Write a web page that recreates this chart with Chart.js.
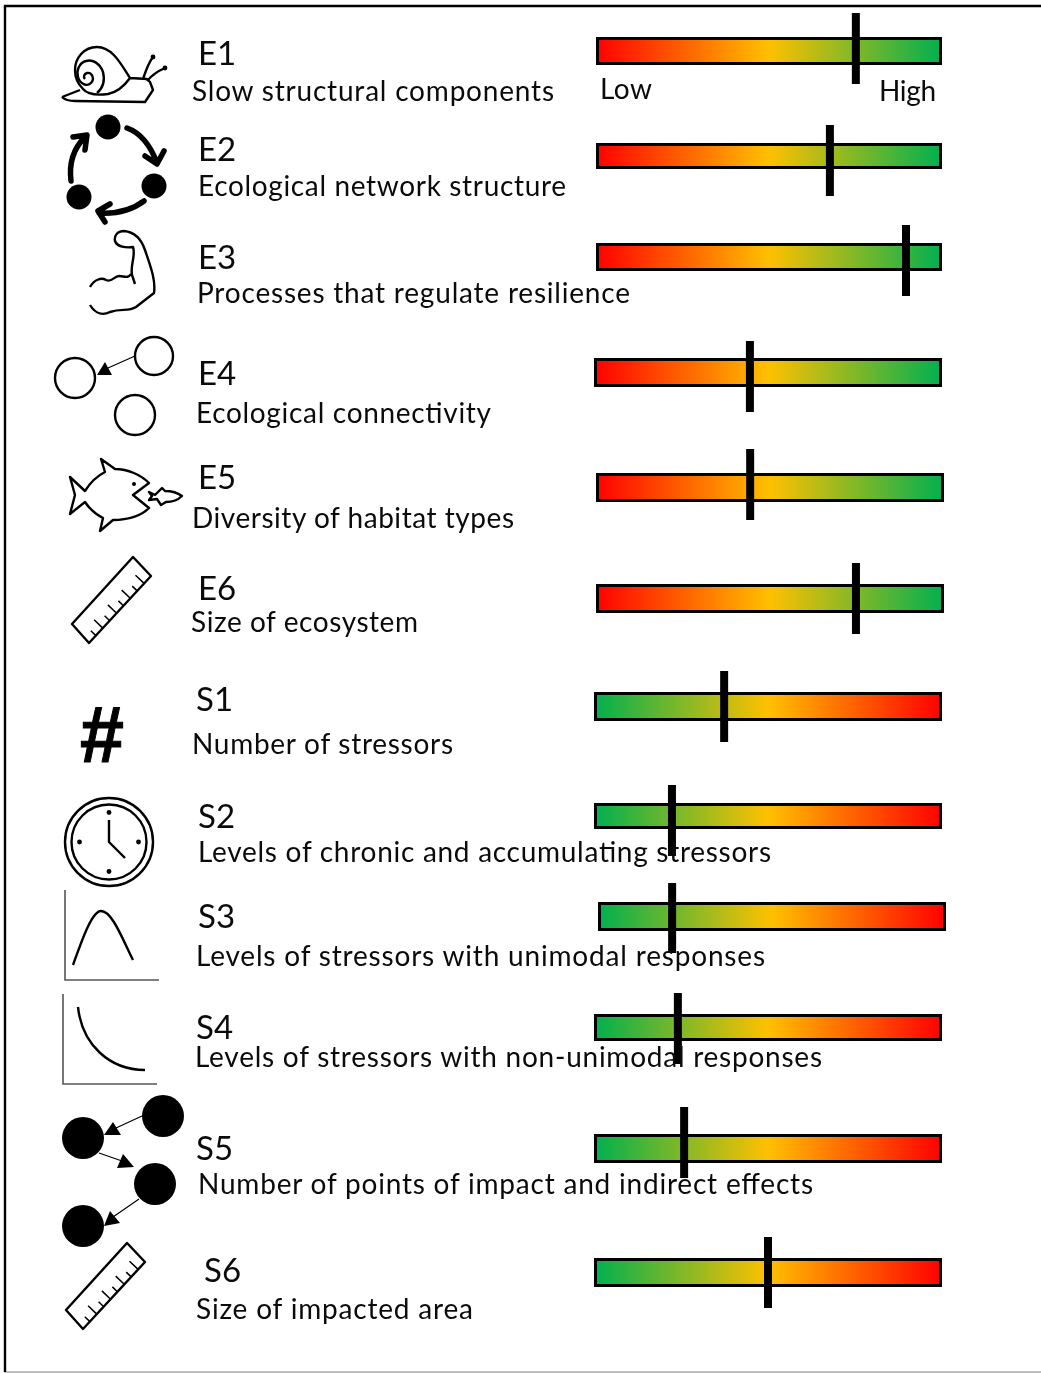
<!DOCTYPE html>
<html>
<head>
<meta charset="utf-8">
<title>Ecosystem and stressor indicators</title>
<script src="https://cdn.jsdelivr.net/npm/chart.js@4"></script>
<style>
    html, body { margin: 0; background: #fff; }
    #page { position: relative; width: 1041px; height: 1373px; overflow: hidden; }
    #page canvas { position: absolute; }
    #overlay { position: absolute; left: 0; top: 0; }
    #overlay text { font-family: Lato, Carlito, sans-serif; fill: #0b0b0b; }
    #overlay text.hash { font-family: "Liberation Sans", sans-serif; font-size: 79px; font-weight: 700; fill: #000; stroke: #000; stroke-width: 1; }
    .code { font-size: 33px; }
    .desc { font-size: 28px; }
    .line { fill: none; stroke: #000; stroke-width: 2.4; stroke-linejoin: round; }
    .heavy { fill: none; stroke: #000; stroke-width: 5.5; stroke-linecap: round; stroke-linejoin: round; }
    .axis { fill: none; stroke: #555; stroke-width: 1.6; }
</style>
</head>
<body>
<div id="page">
<svg id="overlay" width="1041" height="1373" xmlns="http://www.w3.org/2000/svg"></svg>
</div>
<script>
const codes = ['E1', 'E2', 'E3', 'E4', 'E5', 'E6', 'S1', 'S2', 'S3', 'S4', 'S5', 'S6'];
const labels = [
    'Slow structural components',
    'Ecological network structure',
    'Processes that regulate resilience',
    'Ecological connectivity',
    'Diversity of habitat types',
    'Size of ecosystem',
    'Number of stressors',
    'Levels of chronic and accumulating stressors',
    'Levels of stressors with unimodal responses',
    'Levels of stressors with non-unimodal responses',
    'Number of points of impact and indirect effects',
    'Size of impacted area'
];
const markerValues = [75.1, 67.6, 89.6, 44.8, 44.3, 74.7, 37.4, 22.4, 21.3, 24.1, 25.9, 50];
const scaleEnds = ['Low', 'High'];
const ecosystemStops = ['#FF0000', '#FFC000', '#00B050'];
const stressorStops = ['#00B050', '#FFC000', '#FF0000'];

// page layout of each row: bar box, marker span, code text, label text
const rowLayout = [
    { l: 596, r: 942, t: 37, b: 65, mt: 13, mb: 84, cx: 198, cy: 65, dx: 192, dy: 101, dr: 554 },
    { l: 596, r: 942, t: 143, b: 169, mt: 125, mb: 196, cx: 198, cy: 161, dx: 198, dy: 196, dr: 566 },
    { l: 596, r: 942, t: 243, b: 271, mt: 225, mb: 296, cx: 198, cy: 269, dx: 197, dy: 303, dr: 630 },
    { l: 594, r: 942, t: 358, b: 387, mt: 341, mb: 412, cx: 198, cy: 385, dx: 196, dy: 423, dr: 491 },
    { l: 596, r: 944, t: 473, b: 502, mt: 449, mb: 520, cx: 198, cy: 489, dx: 192, dy: 528, dr: 514 },
    { l: 596, r: 944, t: 584, b: 613, mt: 563, mb: 634, cx: 198, cy: 600, dx: 191, dy: 632, dr: 418 },
    { l: 594, r: 942, t: 692, b: 721, mt: 671, mb: 742, cx: 196, cy: 711, dx: 192, dy: 754, dr: 453 },
    { l: 594, r: 942, t: 803, b: 829, mt: 785, mb: 856, cx: 198, cy: 828, dx: 198, dy: 862, dr: 771 },
    { l: 598, r: 946, t: 902, b: 931, mt: 883, mb: 953, cx: 198, cy: 928, dx: 196, dy: 966, dr: 765 },
    { l: 594, r: 942, t: 1014, b: 1041, mt: 993, mb: 1064, cx: 196, cy: 1039, dx: 195, dy: 1067, dr: 822 },
    { l: 594, r: 942, t: 1134, b: 1163, mt: 1107, mb: 1178, cx: 196, cy: 1160, dx: 198, dy: 1194, dr: 813 },
    { l: 594, r: 942, t: 1258, b: 1287, mt: 1237, mb: 1308, cx: 204, cy: 1282, dx: 196, dy: 1319, dr: 473 }
];

function renderRow(index) {
    const row = rowLayout[index];
    const width = row.r - row.l;
    const height = row.mb - row.mt;
    const stops = codes[index].startsWith('E') ? ecosystemStops : stressorStops;
    const halfWidth = 4 / width * 100; // marker is 8px wide

    const canvas = document.createElement('canvas');
    canvas.width = width;
    canvas.height = height;
    canvas.style.left = row.l + 'px';
    canvas.style.top = row.mt + 'px';
    canvas.style.width = width + 'px';
    canvas.style.height = height + 'px';
    document.getElementById('page').insertBefore(canvas, document.getElementById('overlay'));

    new Chart(canvas, {
        type: 'bar',
        data: {
            datasets: [{
                label: codes[index] + ' marker',
                data: [{ x: [markerValues[index] - halfWidth, markerValues[index] + halfWidth], y: height / 2 }],
                backgroundColor: '#000',
                barThickness: height,
                grouped: false,
                borderWidth: 0,
                inflateAmount: 0
            }, {
                label: codes[index],
                data: [{ x: [0, 100], y: (row.t + row.b) / 2 - row.mt }],
                backgroundColor: ctx => {
                    const area = ctx.chart.chartArea;
                    if (!area) return stops[0];
                    const x = ctx.chart.scales.x;
                    const grad = ctx.chart.ctx.createLinearGradient(x.getPixelForValue(0), 0, x.getPixelForValue(100), 0);
                    stops.forEach((c, i) => grad.addColorStop(i / (stops.length - 1), c));
                    return grad;
                },
                borderColor: '#000',
                borderWidth: 3,
                borderSkipped: false,
                barThickness: row.b - row.t,
                grouped: false,
                inflateAmount: 0
            }]
        },
        options: {
            indexAxis: 'y',
            responsive: false,
            animation: false,
            events: [],
            layout: { padding: 0 },
            plugins: { legend: { display: false }, tooltip: { enabled: false } },
            scales: {
                x: { type: 'linear', min: 0, max: 100, display: false },
                // bar charts default the index axis to offset, which squeezes the rows together
                y: { type: 'linear', min: 0, max: height, reverse: true, offset: false, display: false }
            }
        }
    });
}

function addText(str, x, y, cls, right) {
    const fit = right ? ` textLength="${right - x}" lengthAdjust="spacing"` : '';
    return `<text class="${cls}" x="${x}" y="${y}"${fit}>${str}</text>`;
}

function rulerTicks() {
    let d = '';
    for (let k = 1; k <= 8; k++) {
        const t = k / 9;
        const x = 151 - 62 * t, y = 576 + 67 * t;
        const len = k % 2 ? 12 : 7;
        d += `M${x.toFixed(1)},${y.toFixed(1)}L${(x - 0.72 * len).toFixed(1)},${(y - 0.69 * len).toFixed(1)}`;
    }
    return d;
}

const icons = `
    <path d="M4,1372H1041" stroke="#aaa" stroke-width="1.5" fill="none"/>
    <path d="M5,1372V6H1041" stroke="#000" stroke-width="2.4" fill="none"/>

    <!-- E1 snail -->
    <path class="line" d="M62,97 L80,90 M62,97 Q66,101 75,101 L145,102 L153,90 L150,82 L147,79 L130,78 C122,66 113,47 97,47 C84,47 75,58 75,70 C75,80 79,85 83,89 C88,95 100,95 108,94 C118,92 125,85 130,78"/>
    <path class="line" d="M97,93 C103,88 105,80 103,72 C100,63 92,59 86,61 C79,63 76,71 78,77 C80,84 87,87 91,83 C95,79 92,72 87,73 C84,74 83,77 85,79"/>
    <path class="line" d="M143,79 C146,70 149,62 153,57 M147,81 C152,75 158,71 165,68"/>
    <circle cx="153" cy="57" r="2.4"/><circle cx="165" cy="68" r="2.4"/>

    <!-- E2 cycle -->
    <circle cx="108" cy="127" r="12.5"/><circle cx="154" cy="186" r="12.5"/><circle cx="79" cy="197" r="12.5"/>
    <path class="heavy" d="M127,128 C141,133 151,147 157,163 M145,156 L157,164 L164,151"/>
    <path class="heavy" d="M144,201 C132,210 116,214 99,213 M110,204 L98,211 L105,222"/>
    <path class="heavy" d="M71,181 C69,165 73,149 85,137 M73,137 L87,135 L85,150"/>

    <!-- E3 arm -->
    <path class="line" stroke-width="2" d="M90,305 C96,315 104,315 110,312 C122,308 128,312 136,307 L154,293 C156,280 150,265 145,250 C141,238 134,232 124,231 C117,231 114,236 115,241 C117,247 126,248 133,247 C136,256 130,265 132,275 L135,284 M90,287 C94,280 101,277 106,280 C112,283 114,276 119,276 C124,276 128,279 131,274"/>

    <!-- E4 circles -->
    <circle class="line" cx="75" cy="378" r="20"/><circle class="line" cx="154" cy="356" r="19"/><circle class="line" cx="135" cy="415" r="20"/>
    <path d="M135,356 L108,368" stroke="#000" stroke-width="1.2" fill="none"/>
    <path d="M97,375 L105,362 L112,375 Z"/>

    <!-- E5 fish -->
    <path class="line" d="M85,491 C90,483 97,476 105,472 L101,459 L115,469 C128,469 141,475 149,483 L133,495 L149,508 C141,516 128,520 113,520 L100,531 L103,518 C95,514 89,508 85,502 L70,514 L75,495 L70,477 Z"/>
    <circle cx="134" cy="484" r="2"/>
    <path class="line" stroke-width="1.6" d="M149,492 L155,495 L162,488 L165,491 C172,491 178,493 182,496 C178,500 172,502 166,502 L161,505 L157,499 L149,500 L152,496 Z"/>

    <!-- E6 and S6 rulers -->
    <g id="ruler">
        <path class="line" d="M133,557 L151,576 L89,643 L72,624 Z"/>
        <path d="${rulerTicks()}" stroke="#000" stroke-width="1.5" fill="none"/>
    </g>
    <use href="#ruler" x="-6" y="686"/>

    <!-- S1 hash -->
    <text class="hash" x="80" y="762">#</text>

    <!-- S2 clock -->
    <circle class="line" cx="109" cy="842" r="44"/><circle class="line" cx="109" cy="842" r="37.5"/>
    <circle cx="109" cy="812.5" r="2.4"/><circle cx="138.5" cy="842" r="2.4"/><circle cx="109" cy="871.5" r="2.4"/><circle cx="79.5" cy="842" r="2.4"/>
    <path class="line" d="M109,820 V842 L125,858"/>

    <!-- S3 unimodal -->
    <path class="axis" d="M65,890 V980 H159"/>
    <path class="line" d="M73,965 C82,940 92,911 101,911 C112,911 122,938 133,960"/>

    <!-- S4 decay -->
    <path class="axis" d="M63,994 V1084 H157"/>
    <path class="line" d="M78,1007 C82,1045 110,1070 145,1070"/>

    <!-- S5 network -->
    <circle cx="163" cy="1116" r="21"/><circle cx="83" cy="1138" r="21"/><circle cx="155" cy="1184" r="21"/><circle cx="83" cy="1226" r="21"/>
    <path d="M142,1116 L116,1128 M99,1153 L122,1161 M139,1199 L113,1217" stroke="#000" stroke-width="1.2" fill="none"/>
    <path d="M104,1135 L113,1122 L121,1135 Z M134,1167 L123,1154 L117,1168 Z M104,1226 L110,1211 L120,1223 Z"/>
`;

let overlay = icons;
codes.forEach((code, i) => {
    renderRow(i);
    const row = rowLayout[i];
    overlay += addText(code, row.cx, row.cy, 'code');
    overlay += addText(labels[i], row.dx, row.dy, 'desc', row.dr);
});
overlay += addText(scaleEnds[0], 600, 99, 'desc', 652);
overlay += addText(scaleEnds[1], 879, 101, 'desc', 936);
document.getElementById('overlay').innerHTML = overlay;
</script>
</body>
</html>
